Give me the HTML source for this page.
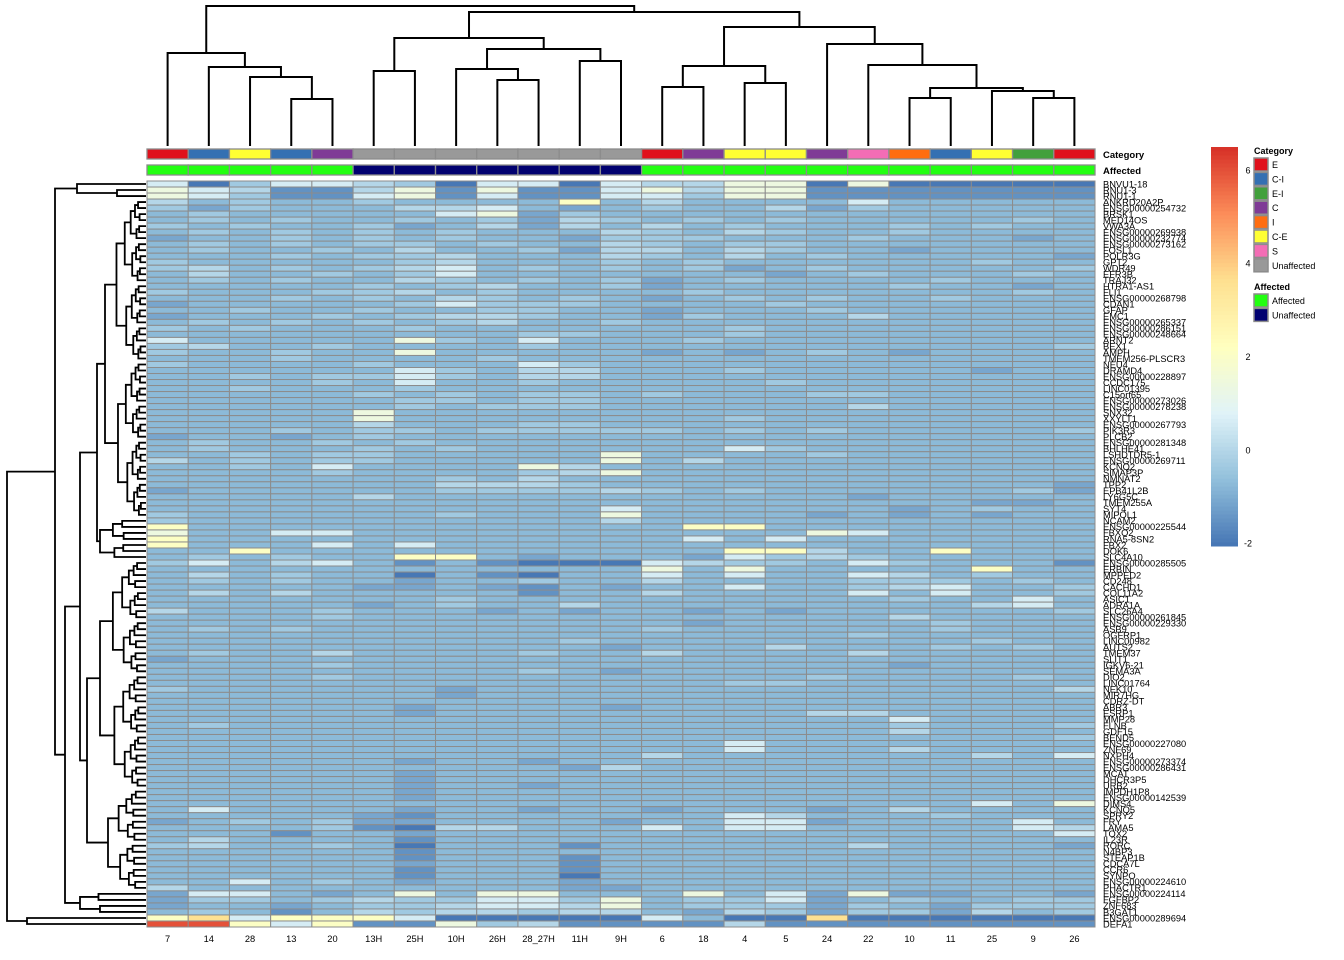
<!DOCTYPE html>
<html><head><meta charset="utf-8"><style>
body{margin:0;background:#fff;}
svg{display:block;font-family:"Liberation Sans",Arial,sans-serif;}
</style></head><body>
<svg id="chart" width="1344" height="960" viewBox="0 0 1344 960" xmlns="http://www.w3.org/2000/svg">
<g id="coldendro"></g>
<g id="rowdendro"></g>
<g id="annot"></g>
<g id="cells"></g>
<g id="rowlabels"></g>
<g id="collabels"></g>
<g id="legend"></g>
</svg>
<script>
const columns = ["7","14","28","13","20","13H","25H","10H","26H","28_27H","11H","9H","6","18","4","5","24","22","10","11","25","9","26"];
const categories = ["E","C-I","C-E","C-I","C","Unaffected","Unaffected","Unaffected","Unaffected","Unaffected","Unaffected","Unaffected","E","C","C-E","C-E","C","S","I","C-I","C-E","E-I","E"];
const affected = ["Affected","Affected","Affected","Affected","Affected","Unaffected","Unaffected","Unaffected","Unaffected","Unaffected","Unaffected","Unaffected","Affected","Affected","Affected","Affected","Affected","Affected","Affected","Affected","Affected","Affected","Affected"];
const levelCodes = ["D","d","b","m","l","L","w","y","Y","o","O","r"];
const levelValues = [-2.0,-1.5,-1.1,-0.72,-0.35,0.0,0.6,1.4,2.1,3.6,4.6,6.0];
const rowsData = [
"wDlwwLlDwwDwLLyyDyDDDDD","ywLddLydyddwyLyyddddddd","ywlddwydwddwwlyyddddddd","LmlmmlmmmmYmLmmmmwmmmmm",
"lblmmmLLwmbmlmmLblmmmmm","mlmmmmmwyblmmmmmmmmmmmm","mlmlmmlmlbLlmlmlmmmmmlm","lmlmmlbmLbLmLmlmmmlmlmm",
"mlmlmlmlmmmLlmLlmmlmmmm","bmmlmlmlmmblllmmmlmmmbm","mlmlmllmlmmLlmllmmmmmmm","mlmmlmLmmlbLLmLlmmbmmmm",
"mmmlmllLmmmLlmLmlmmmmmb","lmmmmmlLmmmlmlmmmmmmlmm","lLmlmlLwmlmlmlbmlmmmmml","mLmmlmlwmmmmmmmbmlmmmlm",
"mlmlmmLlmlmlbmlmmmmlmmm","mmmmmlmlLmmlbmmmmmlmmbm","lmmmllLmlmmmmlmmmmmmmlm","mmmlmlmLlmlmbmlmlmmlmmm",
"bmmmmmlwlllmmmmlmmmmmmm","mmlmmlmmllmmbmmmlmmmmmm","bmmmlmlLLlmmblmmmLmmmmm","mlmlmlmlLmmlmmmmmmmmmmm",
"lmlmmmlmmmmmmmlmmmmmmmm","mmmmmmmmmllmmmlmmmmmmmm","wmmmmmylmwmmmlmmmmmmmmm","lLmmlmmmmlmmmmmmmmmmmml",
"lmmlmmymmmmmbmbmlmbmmmm","mmmlmmmmlmmmmmmmmmmmmmm","lmmmmlmmmwlmmmmmmmmmmmm","mmmmmmwlmLLmmmlmmmmmbmm",
"mmlmllwlmLLmmmmmmmmmmmm","mmmmlmwmmlmmmmmlmmmmmmm","mmlmmmlmmmmmmmmmmmmmmmm","mmmmmlmlmllmlmmmllmmmmm",
"mmmmmmllmllmmmmmmmmmmmm","mmmmmmlmlllmmmmmmLmmmmm","mmmmmymmmmmmmmmmmmmmmmm","mmmmmymmmmmmmmlmmmmmmmm",
"mmmmmLmmmllmmmmmmmmmmmm","mmmlmllmlllllmlmlmmmmml","bmmbmlmmmmmmmmmmmmmmmmm","mlmmlmlmmmmmmmmmmmmmmmm",
"mlmmmlmlmmmmmmwlmmmmmmm","mmlmllmmmmmymmmmlmmmmmm","LmlmllmmmmmymLmmmmmmmmm","mmlmwmmmmyLmmmmmmmmmmmm",
"mmmmlmmmmlLymmmmmmmmmmm","mmmmmmmlmLmmmmmmmmmmmmm","mmmmmmmLLLlmmmmmmmmmmmb","bmmmmmmllllLlmlmmmmmmlb",
"mmmmmLmmmmmmmmmmmbmmmmm","mmmmmmmmmmmmmmmmmmmmbbm","mmmmmmmmmmmwmmmmmmbmlmm","lmmmmmmlmmmymmmmbmbmbmm",
"lmmmmmmmmmmLmmmmmmmmmmm","YmmmmmmmmmmmmYYmmmmmmmm","ymmwwmmmmmmmmmmmywmmmmm","Ymmmmmmmmmmmmwmwmmmmmmm",
"Ymmmwmwmmmmmmmmmmmmmmmm","mmYmmmmmmmmmmmYYLmmYmmm","mlmlmmYYmbmmmbwlLlmmmmm","lwmLwmdmdDDDwLllmwlmmmd",
"mmmmmmmmmmmmymymmmmmYmm","mLmlmmDmdDmmwmwmmwLmlmm","mlmlmmbmmlmmLmmmmlllmlm","mmmmmbbmbdmbmmwmmlLwmml",
"mLmLmmmmmdmmLmmmmwmwmml","mmmmmmmlmmmmmmmmmmlmmwm","mmmmmbmlmmLmmmmmmmmmLwm","Lmmmlmmmbmbmmbmbmmmmmml",
"mmmmlmmmmmmmmmmmmmLmmmm","mmmmmmmmmmmmmbmmmmmlmmm","mlmlmmmmmmmmlmmmmmmlmmm","mmmmmmmmmmmmmmmmmlmmmmm",
"mmmmmmmmmmlmmmmmmmmmlmm","mmmmmmmmmmmbmmmLmmmlmlm","mlmmLmmmmlmmLmmmmLmmmmm","bmmmmmmmmmmmmmmmmmmmmmm",
"mmmmlmmmmmmmmmmmmmbmmmm","mmmmmmmmmlmbmmmmmmmmmmm","mmmmlmmmmmmmmmmmlmmmmlm","mmmmmmmmmmmmmmllmmmmmmm",
"lmmmmmmbmmmmmmmmmmmmmmL","mmmmmmmbmmmmmmmmmmmmmmm","mmmmmmmmmmmmmmmmmmmmmmm","mmmmmmbmmmmbmmmmmmmmmmm",
"mmmmmmbmmmmmmmmmLLmmmmm","mmmmmmmmmmmmmmmmmmwmmmm","mlmmmmmmmmmmmmmmmmlmmml","mmmmmmmmmmmmmmmmmmLmmmm",
"mmmmmmmmmmmmmmmmmmmmmml","mmmmmmmmmmmmmmwmmmmmmmm","mmmmmmmmmmmmmmwmmmLmmmm","mmmmmmmmmmmmLmmmmmmmLmw",
"mmmmmmbmmbmmmmmmmmmmmmm","mmmmmmmmmmbLmmmmmmmmmmm","mmmmmmbmmmmmmmmmmmmmmmm","mmmmmmbmmmmmmmmmmmmmmmm",
"mmmmmmbmmbmmmmmmmmmmmmm","mmmmmmbmmmmmmmmmmmmmmmm","mmmmmmbmmmmmmmmmmmmmmmm","mmmmmmmmmmmmmmmmmmmmwmy",
"mwmmmmbmmbmmbmmmbmLmmmm","mmmmmbdmmmmmmmwLmmmlmmm","bmlmlbbmmmmbmmwwbmmmmwm","mmmmldDLLmmmwmwwmmmmmwL",
"mmmdmmbmmmmmmmmmmmmmmmw","mLmmmmdmmmmmmmmmmmmmmmm","lLmmlmDmmmdmmmmmmLmmmmb","mmmmmmdmmmmmmmmmmmmmmmm",
"mmmmmmdmmmdmmmmmmmmmmmm","mmmmmmbmmmdmmmmmmmmmmmm","mmmmmmdmmmdmmmmmmmmmmmm","mmmmmmdmmmDmmmmmmmmmmmm",
"mmwmlmbmmmbmmmmmmmmmmmm","Lmmmmmmmmmbbmmmmmmmmmmm","bwwmbmymyymmmymwbybbmmb","bllmlLllwwlymllwbmlmmll",
"bmmbmllLwwLymlllblmblll","mlmdmLlLLlLLmbLlbllbLml","YowYYYwDDDDDwmDDoDDDDDD","rrYwYddylLddddLdddddddd"
];
const rowNames = ["BNVU1-18","RNU1-3","RNU1-1","ANKRD20A2P","ENSG00000254732","BRSK1","MED14OS","VWA3A","ENSG00000269938","ENSG00000232774","ENSG00000273162","FOSL1","POLR3G","GPT2","WDR49","EFR3B","TRAJ32","HTRA1-AS1","FLI1","ENSG00000268798","CDAN1","GFAP","EMC1","ENSG00000265337","ENSG00000286151","ENSG00000248664","ARNT2","BEX1","AMPH","TMEM256-PLSCR3","NEU4","DRAMD4","ENSG00000228897","CCDC175","LINC01395","C15orf65","ENSG00000273026","ENSG00000278238","SNX32","XXYLT1","ENSG00000267793","PIK3R3","PLCB2","ENSG00000281348","BHLHE41","LSHDTDR5-1","ENSG00000269711","KCNQ2","SIMAP3P","NMNAT2","TPP2","EPB41L2B","LY6G5C","TMEM255A","SYT4","MIPOL1","NCAM2","ENSG00000225544","FBXO2","RNA5-8SN2","FBX2","DOK6","SLC4A10","ENSG00000285505","ERBIN","MPPED2","CD248","CACHD1","COL11A2","ASIC1","ADRA1A","SLC26A4","ENSG00000261845","ENSG00000229330","ASB9","OGFRP1","LINC00982","AUTS2","TMEM37","SLIT1","IGKV6-21","SEMA3A","DIO2","LINC01764","NEK10","MIR7HG","CDRZ-DT","ABR3","ESRP1","MMP28","FLNB","GDF15","BEND5","ENSG00000227080","ZNF69","NXPH4","ENSG00000273374","ENSG00000286431","MCAT","DHCR3P5","URB2","IMPDH1P8","ENSG00000142539","DIMS4","KCNQ5","SPRY2","FRY","LAMA5","TOX2","IL23R","RORC","N4BP3","STEAP1B","CDCA7L","CCR6","SYNPO","ENSG00000224610","PHACTR1","ENSG00000224114","FGFBP2","ZNF683","B3GAT1","ENSG00000289694","DEFA1"];
const colMerge = [[-4,-5,47],[-3,1,69],[-2,2,79],[-1,3,93],[-6,-7,75],[-9,-10,66],[-8,6,77],[-11,-12,85],[7,8,97],[5,9,108],[-13,-14,59],[-15,-16,63],[11,12,80],[-19,-20,48],[-22,-23,48],[-21,15,55],[14,16,58],[-18,17,81],[-17,18,102],[13,19,119],[10,20,134],[4,21,140]];
const legendTicks = [6,4,2,0,-2];
const catLevels = ["E","C-I","E-I","C","I","C-E","S","Unaffected"];
const catColors = {"E":"#e0101c","C-I":"#3470b2","E-I":"#42a03c","C":"#7f3b96","I":"#ff6d10","C-E":"#ffff33","S":"#f36db5","Unaffected":"#999999"};
const affLevels = ["Affected","Unaffected"];
const affColors = {"Affected":"#22ff11","Unaffected":"#000070"};

const NS="http://www.w3.org/2000/svg";
function mk(tag,attrs,parent){const e=document.createElementNS(NS,tag);for(const k in attrs)e.setAttribute(k,attrs[k]);if(parent)parent.appendChild(e);return e;}
const X0=147,X1=1095,Y0=181,Y1=927;
const nC=columns.length,nR=rowsData.length;
const cw=(X1-X0)/nC,rh=(Y1-Y0)/nR;
const xC=i=>X0+cw*(i+0.5);
const yR=r=>Y0+rh*(r+0.5);
const stops=["#4575B4","#91BFDB","#E0F3F8","#FFFFBF","#FEE090","#FC8D59","#D73027"];
const VMIN=-2.05,VMAX=6.5;
function hex(h){return [1,3,5].map(i=>parseInt(h.substr(i,2),16));}
function color(v){let t=(v-VMIN)/(VMAX-VMIN);t=Math.max(0,Math.min(1,t))*(stops.length-1);const i=Math.min(stops.length-2,Math.floor(t)),f=t-i;const a=hex(stops[i]),b=hex(stops[i+1]);return "rgb("+a.map((c,k)=>Math.round(c+(b[k]-c)*f)).join(",")+")";}
function valueOf(ch){return levelValues[levelCodes.indexOf(ch)];}

const cells=document.getElementById('cells');
for(let r=0;r<nR;r++){for(let c=0;c<nC;c++){
 const rc=mk('rect',{x:X0+cw*c,y:Y0+rh*r,width:cw,height:rh,fill:color(valueOf(rowsData[r][c])),stroke:"#8c8c8c","stroke-width":1},cells);
 
 
}}
const annot=document.getElementById('annot');
for(let c=0;c<nC;c++){
 const a=mk('rect',{x:X0+cw*c,y:149,width:cw,height:10,fill:catColors[categories[c]],stroke:"#8c8c8c","stroke-width":1.3},annot);
 
 
 const b=mk('rect',{x:X0+cw*c,y:165,width:cw,height:10,fill:affColors[affected[c]],stroke:"#8c8c8c","stroke-width":1.3},annot);
 
 
}
let t=mk('text',{x:1103,y:158,"font-size":"9.5","font-weight":"bold"},annot);t.textContent="Category";


t=mk('text',{x:1103,y:174,"font-size":"9.5","font-weight":"bold"},annot);t.textContent="Affected";


const rl=document.getElementById('rowlabels');
for(let r=0;r<nR;r++){const e=mk('text',{x:1103,y:yR(r)+3.3,"font-size":"9.3"},rl);e.textContent=rowNames[r]||"";
 
 }
const cl=document.getElementById('collabels');
for(let c=0;c<nC;c++){const e=mk('text',{x:xC(c),y:942,"font-size":"9.3","text-anchor":"middle"},cl);e.textContent=columns[c];
 
 }
const cd=document.getElementById('coldendro');
const BASE=146;
const nodes=[];
function pos(id){return id<0?{x:xC(-id-1),y:BASE}:nodes[id-1];}
colMerge.forEach(m=>{const a=pos(m[0]),b=pos(m[1]);const y=BASE-m[2];
 const p=mk('path',{d:`M${a.x},${a.y}V${y}H${b.x}V${b.y}`,fill:"none",stroke:"#000","stroke-width":2},cd);
 
 
 nodes.push({x:(a.x+b.x)/2,y:y});});
const rd=document.getElementById('rowdendro');
const LEAFX=146;
const rowTree={x:7,c:[{x:55,c:[{x:77,c:[{lo:0,hi:0},{x:117,lo:1,hi:2}]},{x:65,c:[{x:80,c:[{x:97,c:[{x:105,lo:3,hi:55},{x:100,lo:56,hi:62}]},{x:87,c:[{x:100,lo:63,hi:100},{x:108,lo:101,hi:117}]}]},{x:80,lo:118,hi:121}]}]},{x:27,lo:122,hi:123}]};
function expand(n){
 if(n.c) return n;
 if(n.lo===n.hi) return {leaf:n.lo};
 const mid=Math.floor((n.lo+n.hi)/2);const cx=n.x+(LEAFX-n.x)*0.28;
 return {x:n.x,c:[{x:cx,lo:n.lo,hi:mid},{x:cx+1.5,lo:mid+1,hi:n.hi}]};
}
function draw(n){
 n=expand(n);
 if(n.leaf!==undefined) return {x:LEAFX,y:yR(n.leaf)};
 const ch=n.c.map(draw);
 const y1=ch[0].y,y2=ch[1].y;
 const p=mk('path',{d:`M${ch[0].x},${y1}H${n.x}V${y2}H${ch[1].x}`,fill:"none",stroke:"#000","stroke-width":1.8},rd);
 
 
 return {x:n.x,y:(y1+y2)/2};
}
draw(rowTree);
const lg=document.getElementById('legend');
const LB0=147,LB1=546,LX=1211,LW=27;
const ly=v=>LB1-(v-VMIN)/(VMAX-VMIN)*(LB1-LB0);
for(let i=0;i<100;i++){const v0=VMIN+(VMAX-VMIN)*i/100,v1=VMIN+(VMAX-VMIN)*(i+1)/100;
 const s=mk('rect',{x:LX,y:ly(v1),width:LW,height:ly(v0)-ly(v1)+0.5,fill:color((v0+v1)/2)},lg);
 
 }
legendTicks.forEach(v=>{const e=mk('text',{x:1248,y:ly(v)+3,"font-size":"9","text-anchor":"middle"},lg);e.textContent=v;
 
 });
t=mk('text',{x:1254,y:154,"font-size":"9","font-weight":"bold"},lg);t.textContent="Category";


catLevels.forEach((k,i)=>{const y=158+i*14.4;
 const s=mk('rect',{x:1254,y:y,width:14,height:13,fill:catColors[k],stroke:"#8c8c8c","stroke-width":1.5},lg);
 
 
 const e=mk('text',{x:1272,y:y+10,"font-size":"9"},lg);e.textContent=k;
 
 });
t=mk('text',{x:1254,y:290,"font-size":"9","font-weight":"bold"},lg);t.textContent="Affected";


affLevels.forEach((k,i)=>{const y=294+i*14.4;
 const s=mk('rect',{x:1254,y:y,width:14,height:13,fill:affColors[k],stroke:"#8c8c8c","stroke-width":1.5},lg);
 
 
 const e=mk('text',{x:1272,y:y+10,"font-size":"9"},lg);e.textContent=k;
 
 });
</script>
</body></html>
